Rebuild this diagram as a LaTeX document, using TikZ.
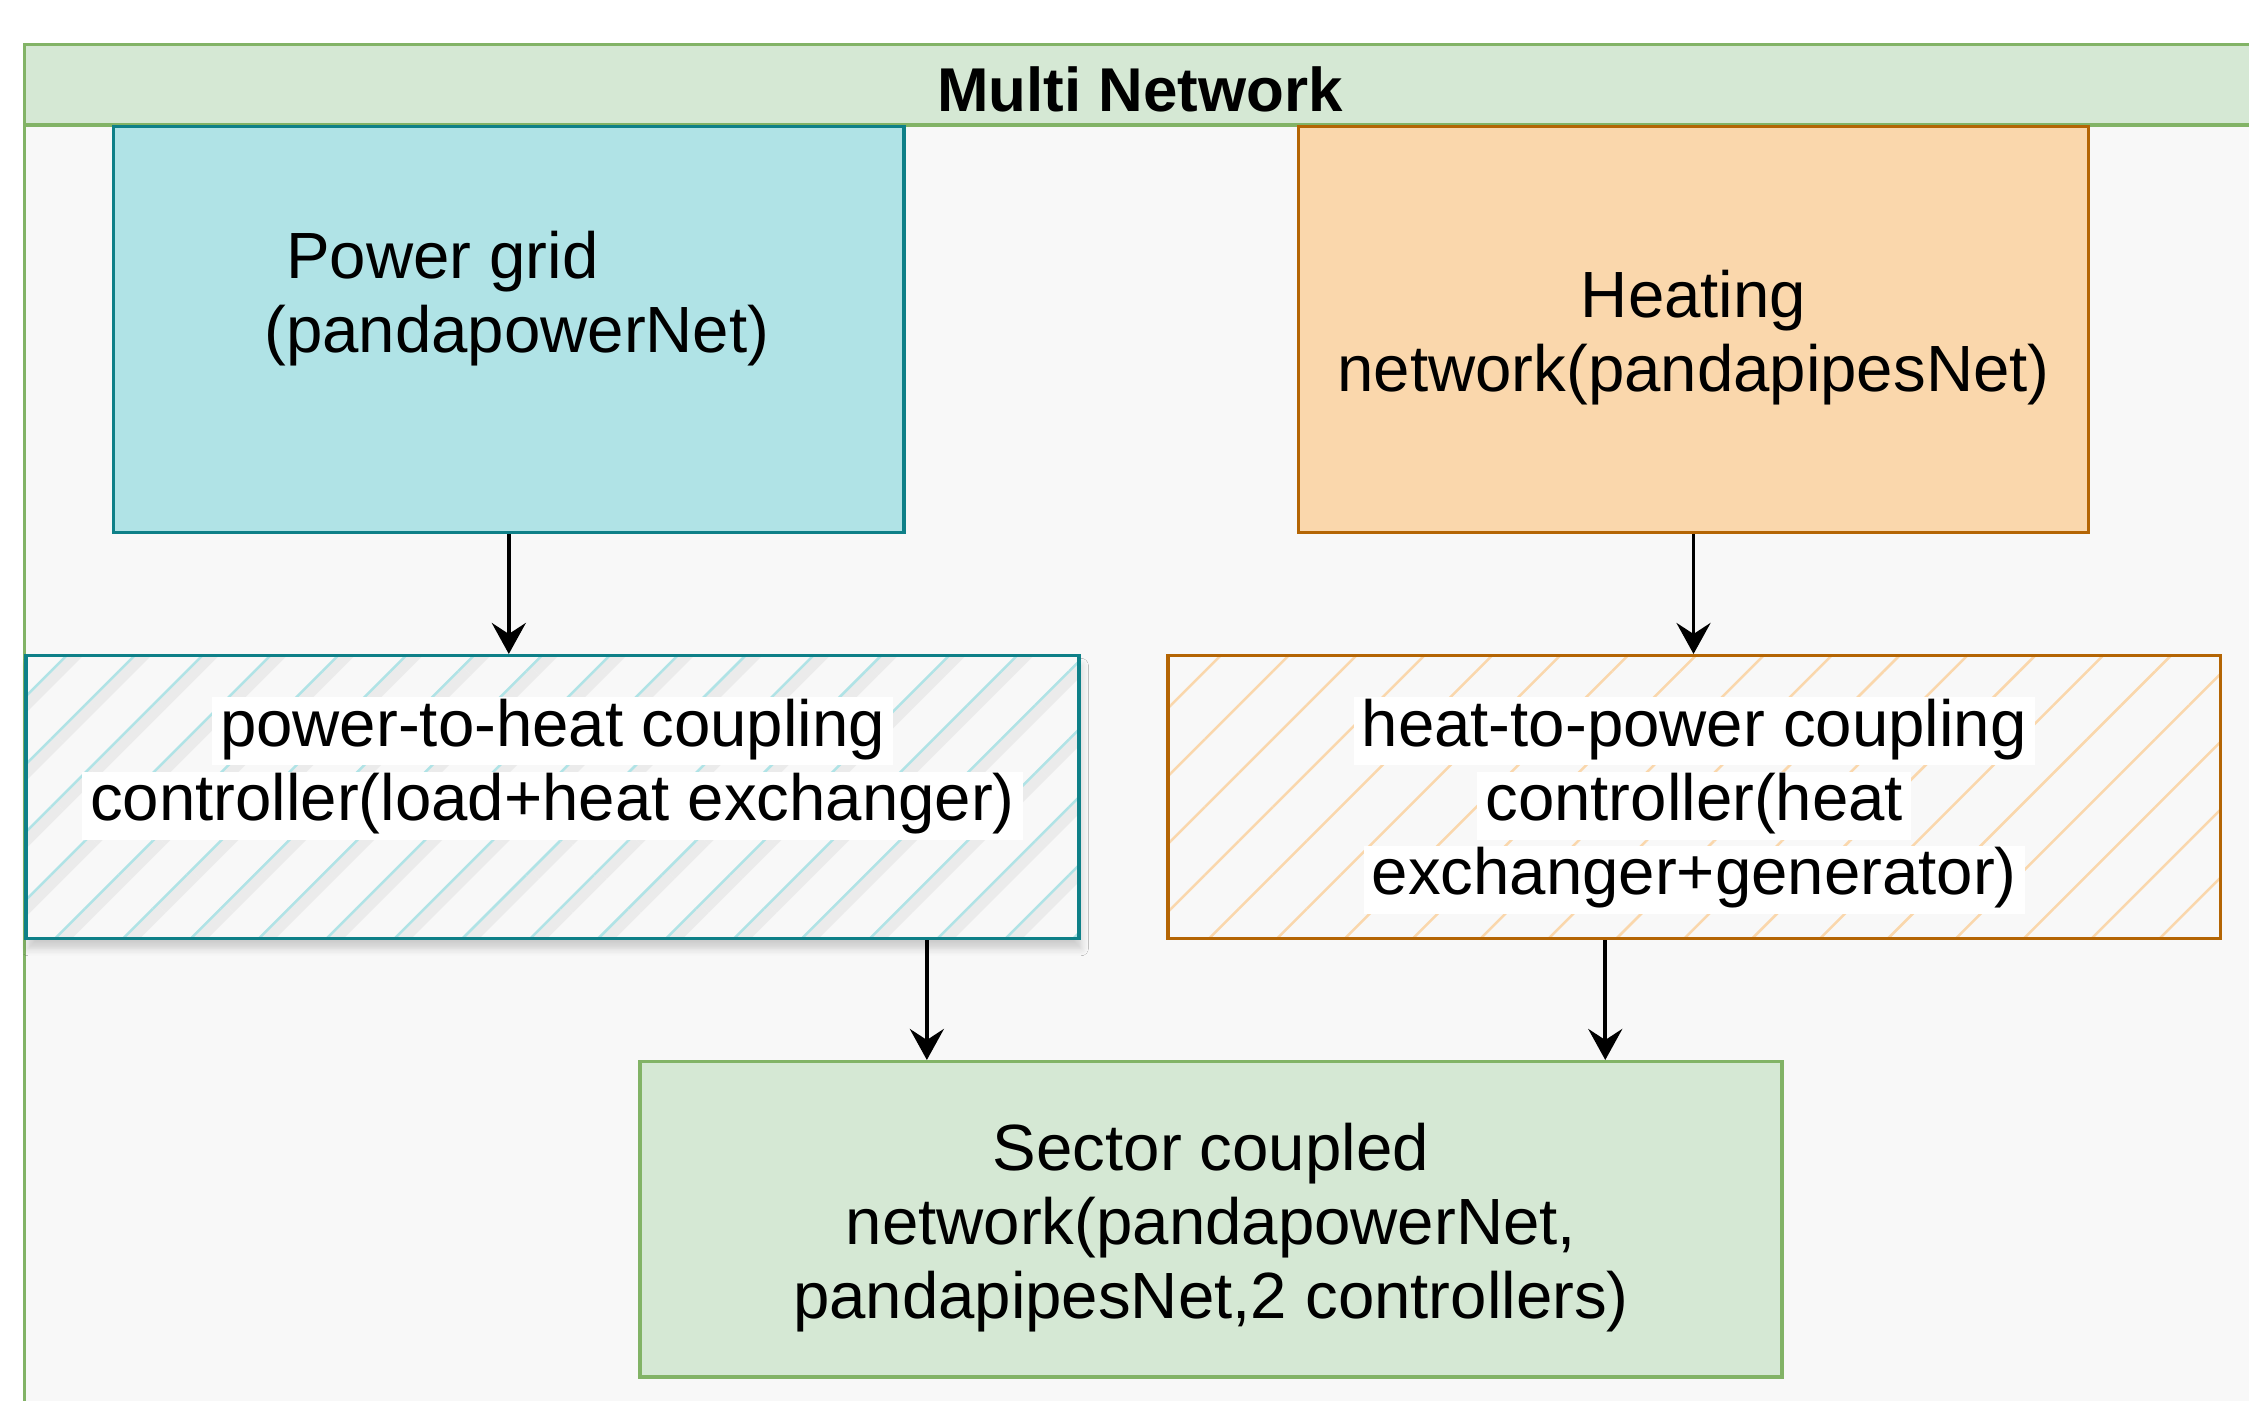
\documentclass[tikz,border=0pt]{standalone}
\usepackage{fontspec}
\setmainfont{Liberation Sans}
\usepackage{tikz}
\usetikzlibrary{arrows.meta, patterns.meta, positioning, shadows.blur}

\definecolor{grpfill}{HTML}{D5E8D4}
\definecolor{grpline}{HTML}{82B366}
\definecolor{panelbg}{HTML}{F8F8F8}
\definecolor{tealfill}{HTML}{B0E3E6}
\definecolor{tealline}{HTML}{0E8088}
\definecolor{orfill}{HTML}{FAD7AC}
\definecolor{orline}{HTML}{B46504}

% white strip behind one text line
\newcommand{\wl}[1]{{\setlength{\fboxsep}{0pt}\colorbox{white}{\rule[-0.19cm]{0pt}{0.68cm}\hspace{0.08cm}#1\hspace{0.08cm}}}}

\tikzset{
  box/.style={draw, line width=1pt, inner sep=0pt, anchor=north west},
  lbl/.style={align=center, font=\fontsize{18.6}{21.1}\selectfont, inner sep=0pt},
  link/.style={line width=1.1pt, -{Stealth[length=3.1mm, width=3.4mm, inset=1.1mm]}},
}

\begin{document}
\begin{tikzpicture}
	\useasboundingbox (0, 0) rectangle (22.49, 14.01);
	\clip (0, 0) rectangle (22.49, 14.01);
	% container
	\fill[panelbg] (0.244, 12.762) rectangle (23, -0.5);
	\draw[grpline, line width=1pt] (0.244, 12.762) -- (0.244, -0.5);
	\draw[grpline, line width=1pt, fill=grpfill] (0.244, 12.762) rectangle (23, 13.565);
	\node[font=\fontsize{17.6}{20}\selectfont\bfseries, inner sep=0pt] (title) at (11.40, 13.12) {Multi Network};
	% networks
	\node[box, draw=tealline, fill=tealfill, minimum width=7.903cm, minimum height=4.059cm] (pg) at (1.119, 12.762) {};
	\node[box, draw=orline, fill=orfill, minimum width=7.903cm, minimum height=4.059cm] (heat) at (12.966, 12.762) {};
	% coupling controllers
	\node[box, draw=tealline, minimum width=10.528cm, minimum height=2.826cm,
		blur shadow={shadow xshift=0.02cm, shadow yshift=-0.1cm, shadow opacity=18, shadow blur steps=6},
		fill=panelbg,
		postaction={pattern={Lines[angle=45, distance=0.48cm, line width=0.11cm, xshift=0.09cm]}, pattern color=black!8},
		postaction={pattern={Lines[angle=45, distance=0.48cm, line width=0.025cm]}, pattern color=tealfill},
		postaction={draw=tealline, line width=1pt}] (ph) at (0.244, 7.47) {};
	\node[box, draw=orline, minimum width=10.528cm, minimum height=2.826cm,
		fill=panelbg,
		postaction={pattern={Lines[angle=45, distance=0.48cm, line width=0.025cm]}, pattern color=orfill},
		postaction={draw=orline, line width=1pt}] (hp) at (11.661, 7.47) {};
	% result
	\node[box, draw=grpline, fill=grpfill, minimum width=11.417cm, minimum height=3.151cm] (sc) at (6.383, 3.41) {};

	\node[lbl] (pgtxt) at ([xshift=0.08cm, yshift=0.31cm]pg.center) {Power grid\hspace*{1.49cm}\\(pandapowerNet)};
	\node[lbl] (heattxt) at ([yshift=-0.08cm]heat.center) {Heating\\network(pandapipesNet)};
	\node[lbl] (phtxt) at ([yshift=0.285cm]ph.center) {\wl{power-to-heat coupling}\\\wl{controller(load+heat exchanger)}};
	\node[lbl] (hptxt) at ([yshift=-0.085cm]hp.center) {\wl{heat-to-power coupling}\\\wl{controller(heat}\\\wl{exchanger+generator)}};
	\node[lbl] (sctxt) at ([yshift=-0.085cm]sc.center) {Sector coupled\\network(pandapowerNet,\\pandapipesNet,2 controllers)};

	\draw[link] (pg.south) -- (pg.south |- ph.north);
	\draw[link] (heat.south) -- (heat.south |- hp.north);
	\draw[link] ([xshift=3.743cm]ph.south) -- ([xshift=3.743cm]ph.south |- sc.north);
	\draw[link] ([xshift=-0.89cm]hp.south) -- ([xshift=-0.89cm]hp.south |- sc.north);
\end{tikzpicture}
\end{document}
